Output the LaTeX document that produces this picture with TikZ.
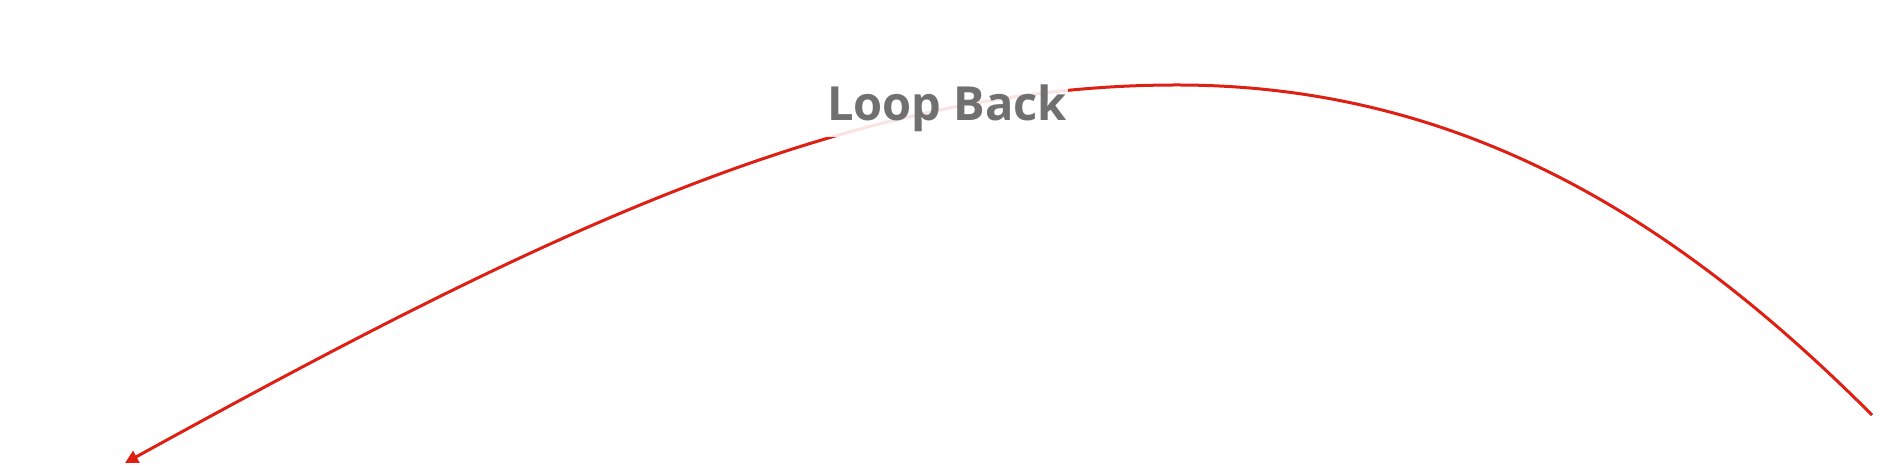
\documentclass[tikz,border=0pt]{standalone}
\usepackage{fontspec}
\newfontfamily\labelfont{Open Sans}
\usetikzlibrary{arrows.meta}
\definecolor{looped}{RGB}{222,32,20}
\definecolor{labelgray}{RGB}{112,112,112}
\begin{document}
\begin{tikzpicture}[x=1pt,y=1pt,
    loopline/.style={looped,line width=3pt,-{Triangle[length=13pt,width=13pt]}},
    looplabel/.style={fill=white,fill opacity=0.88,text opacity=1,text=labelgray,
        inner xsep=1pt,inner ysep=5pt,font=\labelfont\bfseries\fontsize{47}{56}\selectfont}]
    \useasboundingbox (0,0) rectangle (1895,465);
    \coordinate (src) at (1872,50);
    \coordinate (top) at (1177,380);
    \coordinate (dst) at (125,2);
    \draw [loopline] (src) .. controls (1692,230) and (1477,380) .. (top)
        .. controls (847,380) and (545,233) .. (dst);
    \node [looplabel,anchor=base] (lbl) at (947,344) {Loop Back};
\end{tikzpicture}
\end{document}
